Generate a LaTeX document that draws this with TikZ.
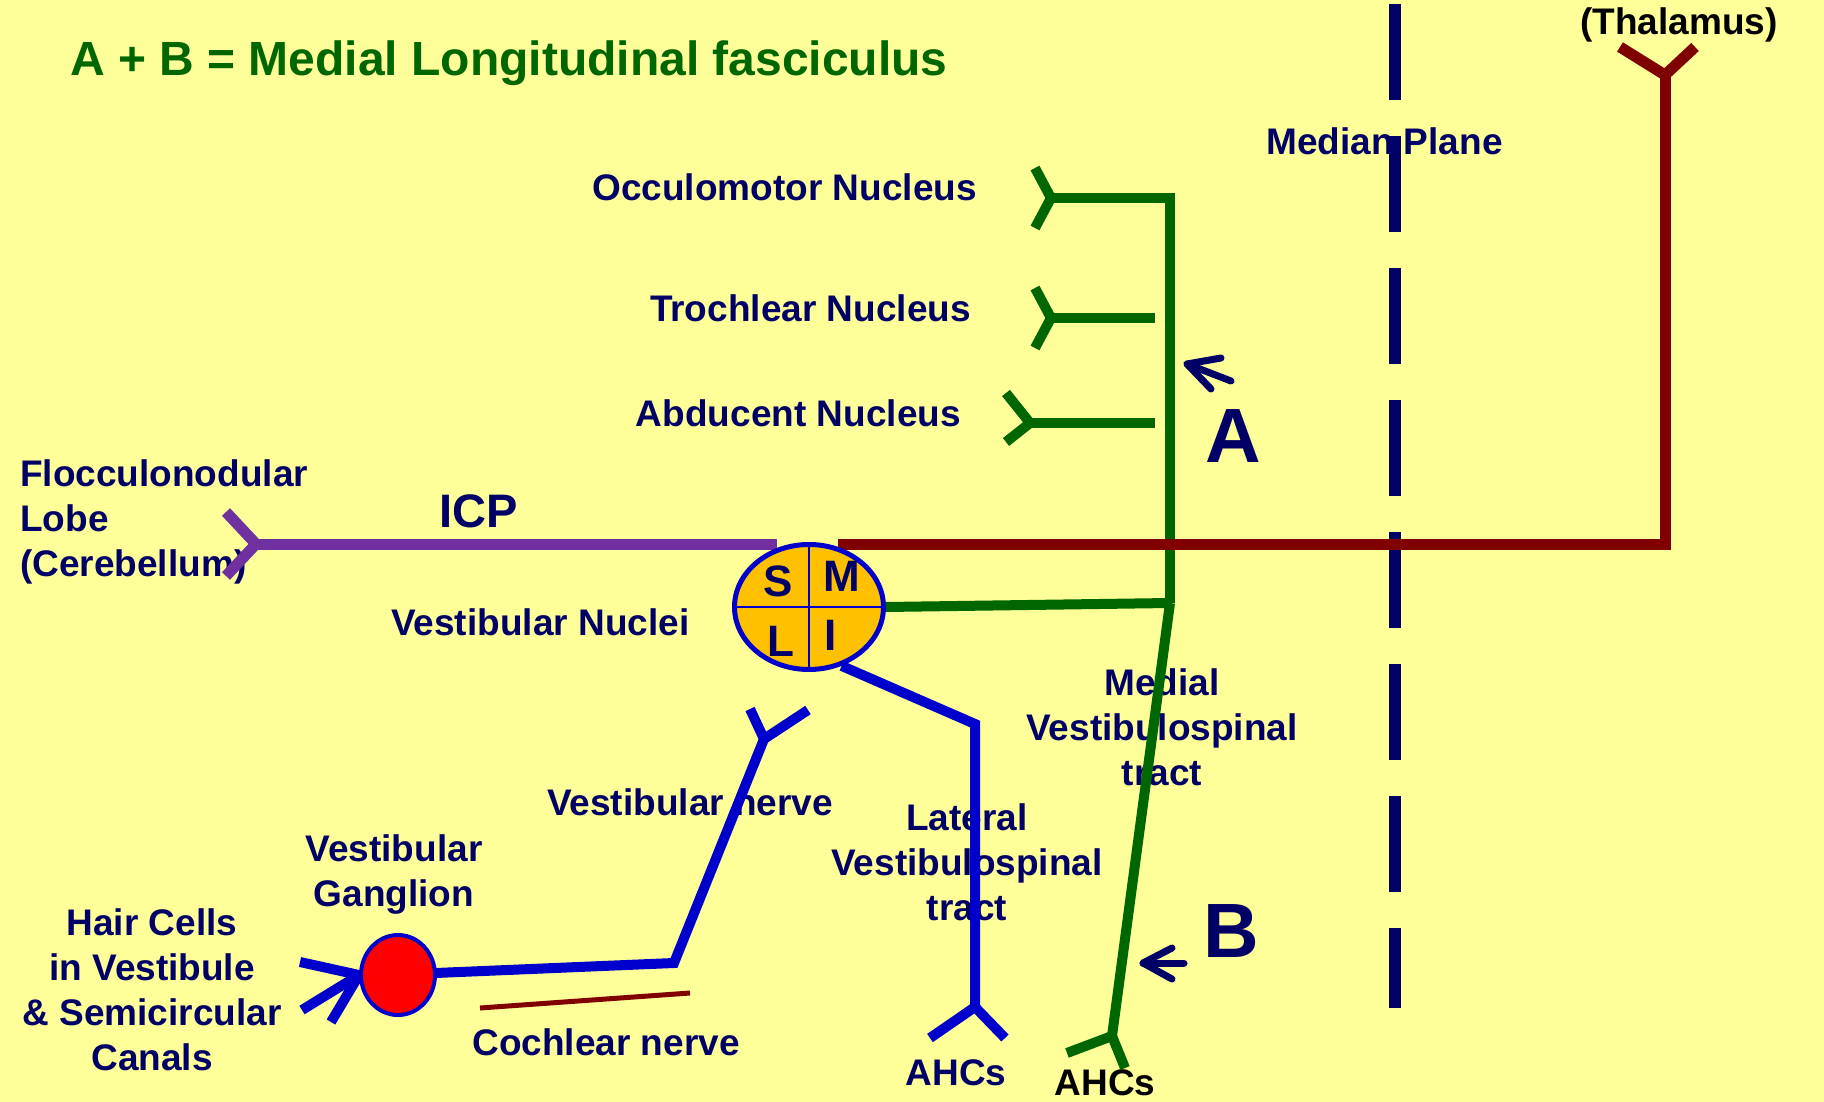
\documentclass[tikz,border=0pt]{standalone}
\usepackage{fontspec}
\setmainfont{Liberation Sans}
\usetikzlibrary{shapes.geometric}
\definecolor{bg}{HTML}{FFFF99}
\definecolor{navy}{HTML}{000066}
\definecolor{dgreen}{HTML}{006600}
\definecolor{maroon}{HTML}{800000}
\definecolor{purp}{HTML}{7030A0}
\definecolor{nblue}{HTML}{0000CC}
\definecolor{orng}{HTML}{FFC000}
\begin{document}
\begin{tikzpicture}[x=1pt,y=-1pt,
  lbl/.style={text=navy,font=\bfseries\fontsize{37}{45}\selectfont,inner sep=0pt,align=center},
  lblL/.style={lbl,align=left},
  big/.style={text=navy,font=\bfseries\fontsize{77}{80}\selectfont,inner sep=0pt},
  quad/.style={text=navy,font=\bfseries\fontsize{44}{48}\selectfont,inner sep=0pt,anchor=base},
  gline/.style={draw=dgreen,line width=10pt},
  mline/.style={draw=maroon,line width=11pt},
  pline/.style={draw=purp,line width=11pt},
  bline/.style={draw=nblue,line width=10pt},
  arr/.style={draw=navy,line width=7pt,line cap=round,line join=round}]
\fill[bg] (0,0) rectangle (1824,1102);
\useasboundingbox (0,0) rectangle (1824,1102);

% ---- coordinates
\coordinate (ocU) at (1035,168);  \coordinate (ocF) at (1051,198);  \coordinate (ocL) at (1035,228);
\coordinate (ocC) at (1170,198);
\coordinate (trU) at (1035,288);  \coordinate (trF) at (1051,318);  \coordinate (trL) at (1035,348);
\coordinate (trE) at (1155,318);
\coordinate (abU) at (1006,393);  \coordinate (abF) at (1030,423);  \coordinate (abL) at (1006,442);
\coordinate (abE) at (1155,423);
\coordinate (junc) at (1170,603);
\coordinate (gF) at (1112,1036);  \coordinate (gA) at (1067,1053); \coordinate (gB) at (1125,1068);
\coordinate (pU) at (226,512); \coordinate (pF) at (256,544); \coordinate (pL) at (226,576);
\coordinate (pE) at (777,544);
\coordinate (mS) at (838,544); \coordinate (mC) at (1665,544); \coordinate (mF) at (1665,75);
\coordinate (mA) at (1620,47); \coordinate (mB) at (1695,47);
\coordinate (lvC) at (975,724); \coordinate (lvF) at (975,1007);
\coordinate (lvA) at (930,1038); \coordinate (lvB) at (1005,1038);
\coordinate (vnF) at (764,739); \coordinate (vnA) at (750,709); \coordinate (vnB) at (808,710);
\coordinate (vnC) at (674,963);
\coordinate (hc) at (364,976);
\coordinate (h1) at (300,962); \coordinate (h2) at (302,1010); \coordinate (h3) at (331,1022);
\coordinate (cA) at (480,1008); \coordinate (cB) at (690,993);
\coordinate (mpT) at (1395,4); \coordinate (mpB) at (1395,1008);
\coordinate (aTip) at (1187,364); \coordinate (aTail) at (1231,381);
\coordinate (aU) at (1221,358); \coordinate (aD) at (1211,389);
\coordinate (bTip) at (1143,963); \coordinate (bTail) at (1184,963);
\coordinate (bU) at (1172,948); \coordinate (bD) at (1172,979);

% ---- median plane
\draw[navy,line width=12pt,dash pattern=on 96pt off 36pt] (mpT) -- (mpB);

% ---- labels (base anchor of multi-line nodes = last line)
\node[anchor=base west,text=dgreen,inner sep=0pt,font=\bfseries\fontsize{48}{56}\selectfont] (title) at (70,76) {A + B = Medial Longitudinal fasciculus};
\node[lbl,anchor=base,text=black] (thal) at (1679,35) {(Thalamus)};
\node[lbl,anchor=base west] (median) at (1266,155) {Median Plane};
\node[lbl,anchor=base east] (occ) at (977,201) {Occulomotor Nucleus};
\node[lbl,anchor=base east] (troch) at (971,321) {Trochlear Nucleus};
\node[lbl,anchor=base east] (abd) at (961,426) {Abducent Nucleus};
\node[lblL,anchor=base west] (floc) at (20,576) {Flocculonodular\\Lobe\\(Cerebellum)};
\node[lbl,anchor=base,font=\bfseries\fontsize{47}{50}\selectfont] (icp) at (479,527) {ICP};
\node[lbl,anchor=base west] (vnuc) at (391,635) {Vestibular Nuclei};
\node[lbl,anchor=base] (mvst) at (1162,785) {Medial\\Vestibulospinal\\tract};
\node[lbl,anchor=base west] (vnerve) at (547,815) {Vestibular nerve};
\node[lbl,anchor=base] (lvst) at (967,920) {Lateral\\Vestibulospinal\\tract};
\node[lbl,anchor=base] (vgang) at (394,906) {Vestibular\\Ganglion};
\node[lbl,anchor=base] (hair) at (152,1070) {Hair Cells\\in Vestibule\\\& Semicircular\\Canals};
\node[lbl,anchor=base] (coch) at (606,1055) {Cochlear nerve};
\node[lbl,anchor=base] (ahc1) at (956,1085) {AHCs};
\node[lbl,anchor=base,text=black] (ahc2) at (1105,1095) {AHCs};
\node[big,anchor=base] (A) at (1233,462) {A};
\node[big,anchor=base] (B) at (1231,957) {B};

% ---- green (MLF and medial vestibulospinal)
\draw[gline] (ocU) -- (ocF) -- (ocL);
\draw[gline] (ocF) -- (ocC) -- (junc);
\draw[gline] (trU) -- (trF) -- (trL);
\draw[gline] (trF) -- (trE);
\draw[gline] (abU) -- (abF) -- (abL);
\draw[gline] (abF) -- (abE);
\draw[gline] (junc) -- (gF);
\draw[gline] (gA) -- (gF) -- (gB);

% ---- purple ICP
\draw[pline] (pU) -- (pF) -- (pL);
\draw[pline] (pF) -- (pE);

% ---- maroon to thalamus
\draw[mline] (mS) -- (mC) -- (mF);
\draw[mline] (mA) -- (mF) -- (mB);

% ---- vestibular nuclei
\node[ellipse,draw=nblue,line width=5pt,fill=orng,minimum width=149pt,minimum height=125pt,inner sep=0pt] (vn) at (809,607) {};
\draw[nblue,line width=2.5pt] (vn.north) -- (vn.south);
\draw[nblue,line width=2.5pt] (vn.west) -- (vn.east);
\node[quad] (qS) at (778,596) {S};
\node[quad] (qM) at (842,591) {M};
\node[quad] (qL) at (781,656) {L};
\node[quad] (qI) at (831,650) {I};
\draw[gline] (vn.east) -- (junc);

% ---- lateral vestibulospinal
\draw[bline] (vn.-61) -- (lvC) -- (lvF);
\draw[bline] (lvA) -- (lvF) -- (lvB);

% ---- vestibular nerve and ganglion
\draw[bline] (vnA) -- (vnF) -- (vnB);
\draw[bline] (vnF) -- (vnC) -- (hc);
\node[ellipse,draw=nblue,line width=4pt,fill=red,minimum width=74pt,minimum height=80pt,inner sep=0pt] (gang) at (398,975) {};
\draw[bline] (h1) -- (gang.west);
\draw[bline] (h2) -- (gang.west);
\draw[bline] (h3) -- (gang.west);
\draw[maroon,line width=5pt] (cA) -- (cB);

% ---- arrows A and B
\draw[arr] (aTail) -- (aTip);
\draw[arr] (aU) -- (aTip) -- (aD);
\draw[arr] (bTail) -- (bTip);
\draw[arr] (bU) -- (bTip) -- (bD);
\end{tikzpicture}
\end{document}
